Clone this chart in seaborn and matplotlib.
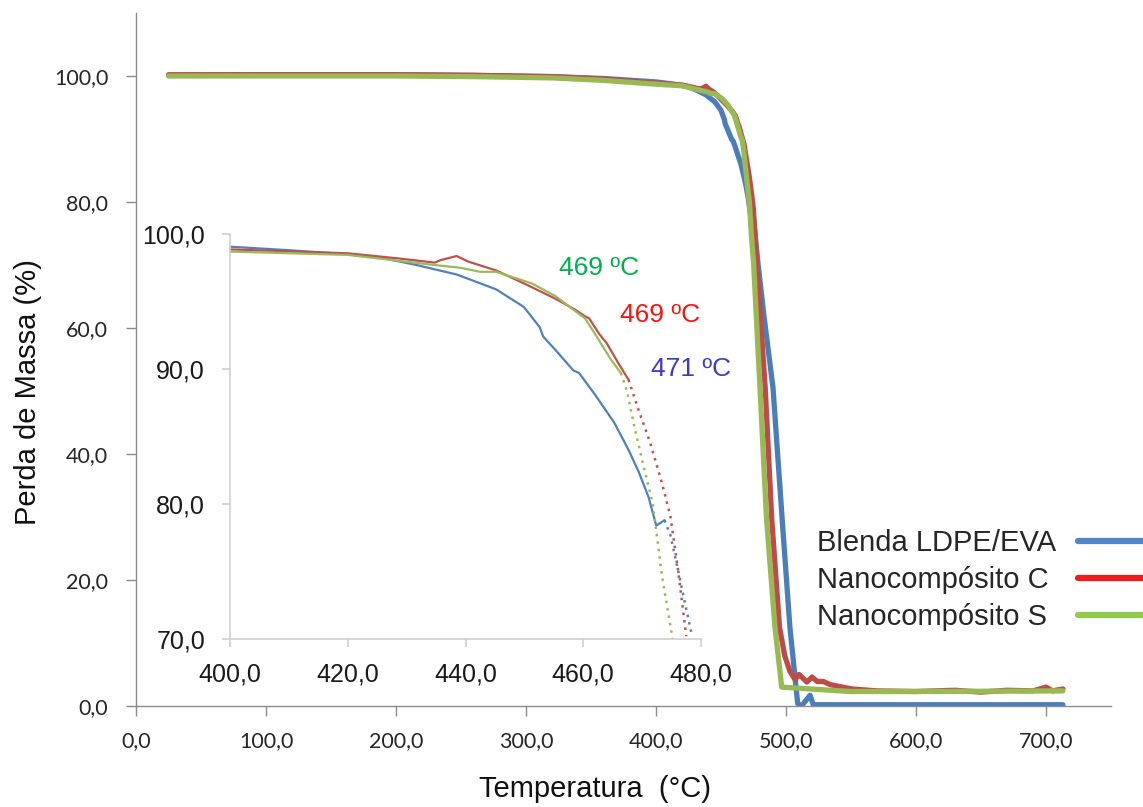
import matplotlib
matplotlib.use("Agg")
import matplotlib.pyplot as plt
from matplotlib.lines import Line2D
from matplotlib.ticker import FuncFormatter
import seaborn as sns
import pandas as pd

# ---- TGA curves: temperature (°C) and mass (%) ----
blend_T = [25, 100, 200, 260, 320, 360, 400, 410, 420, 425, 431.7, 438.5, 445.2,
           449.9, 452.6, 453.2, 455.3, 458.3, 459.3, 462.0, 465.3, 467.7, 469.4,
           471.1, 472.4, 473.8, 474.8, 476.1, 477.4, 478.5, 483, 490, 497, 503,
           509, 512, 515, 518.5, 521, 600, 713]
blend_v = [100.1, 100.2, 100.2, 100.1, 99.9, 99.6, 99.06, 98.8, 98.5, 98.3, 97.7,
           97.0, 95.9, 94.6, 93.1, 92.4, 91.4, 89.9, 89.7, 88.1, 86.0, 84.0, 82.4,
           80.5, 78.4, 78.8, 77.7, 75.1, 72.4, 70.2, 62.0, 50.5, 29.8, 12.5,
           0.4, 0.0, 0.8, 1.7, 0.2, 0.2, 0.2]

nanoC_T = [25, 100, 195, 260, 320, 360, 400, 420, 428.4, 434.8, 435.8, 438.5,
           440.5, 445.2, 450.6, 455.3, 458.6, 460.3, 461.0, 462.7, 464.0, 466.0,
           467.7, 469.4, 471.4, 473.4, 474.8, 476.1, 477.5, 484, 489, 495, 499,
           503, 507, 510, 512.6, 516, 520, 524, 528.6, 534, 541, 551, 570, 600,
           630, 650, 670, 690, 700, 705, 713]
nanoC_v = [100.2, 100.2, 100.2, 100.1, 99.9, 99.5, 98.86, 98.57, 98.2, 97.88,
           98.07, 98.37, 97.95, 97.3, 96.2, 95.2, 94.4, 93.9, 93.75, 92.6, 91.9,
           90.4, 89.2, 86.96, 84.5, 81.5, 79.1, 75.1, 70.2, 50.5, 29.8, 12.5, 8.0,
           5.5, 4.2, 5.0, 4.5, 3.8, 4.6, 3.9, 3.9, 3.4, 3.1, 2.7, 2.4, 2.3, 2.5,
           2.2, 2.5, 2.4, 3.0, 2.4, 2.7]

nanoS_T = [25, 100, 200, 260, 320, 360, 400, 420, 434.8, 439.1, 442.5, 445.2,
           451.2, 455.3, 458.0, 460.3, 462.0, 464.7, 466.4, 467.4, 468.7, 470.4,
           471.8, 473.4, 475.1, 480, 485, 491.5, 496.7, 549, 600, 660, 713]
nanoS_v = [100.0, 100.0, 100.0, 99.9, 99.7, 99.3, 98.7, 98.45, 97.7, 97.5, 97.2,
           97.2, 96.35, 95.4, 94.5, 93.75, 92.6, 90.7, 89.7, 88.4, 85.7, 82.5,
           80.05, 74.6, 70.2, 50.5, 29.8, 12.5, 3.0, 2.3, 2.3, 2.35, 2.4]

series_names = ["Blenda LDPE/EVA", "Nanocompósito C", "Nanocompósito S"]
line_colors = ["#4a7ebb", "#be4b48", "#98b954"]
legend_colors = ["#4f86cc", "#ee1c1c", "#92c94f"]
inset_colors = ["#4f81bd", "#c0504d", "#9bbb59"]
# temperature from which each zoomed curve is shown with markers only
dotted_from = [473.8, 467.7, 466.4]

onset_labels = ["471 ºC", "469 ºC", "469 ºC"]
onset_colors = ["#3a3ad0", "#ff1010", "#00b050"]
onset_pos = [(478.3, 90.0), (473.0, 94.0), (462.7, 97.5)]

main_xticks = [0, 100, 200, 300, 400, 500, 600, 700]
main_yticks = [0, 20, 40, 60, 80, 100]
inset_xticks = [400, 420, 440, 460, 480]
inset_yticks = [70, 80, 90, 100]

frames = []
for name, T, v in zip(series_names, [blend_T, nanoC_T, nanoS_T],
                      [blend_v, nanoC_v, nanoS_v]):
    frames.append(pd.DataFrame({"T": T, "massa": v, "serie": name}))
df = pd.concat(frames, ignore_index=True)

sns.set_style("ticks")
plt.rcParams["font.family"] = ["Liberation Sans", "DejaVu Sans"]

fig = plt.figure(figsize=(11.43, 8.07), dpi=100)
ax = fig.add_axes([136 / 1143, 1 - 706 / 807, (1111 - 136) / 1143, (706 - 13) / 807])

sns.lineplot(data=df, x="T", y="massa", hue="serie", hue_order=series_names,
             palette=dict(zip(series_names, line_colors)), linewidth=3.8,
             estimator=None, sort=False, legend=False, ax=ax)

ax.set_xlim(0, 750)
ax.set_ylim(0, 110)
ax.set_xticks(main_xticks)
ax.set_yticks(main_yticks)
comma = FuncFormatter(lambda val, pos: f"{val:.1f}".replace(".", ","))
ax.xaxis.set_major_formatter(comma)
ax.yaxis.set_major_formatter(comma)
for side in ["top", "right"]:
    ax.spines[side].set_visible(False)
for side in ["left", "bottom"]:
    ax.spines[side].set_color("#8c8c8c")
    ax.spines[side].set_linewidth(1.0)
ax.tick_params(axis="both", direction="out", length=7, width=1.0,
               color="#8c8c8c", labelsize=15.5, labelcolor="#262626")
ax.tick_params(axis="x", pad=11)
ax.tick_params(axis="y", pad=13)
for lab in ax.get_xticklabels() + ax.get_yticklabels():
    lab.set_family(["Lato", "DejaVu Sans"])
ax.set_xlabel("Temperatura  (°C)", fontsize=21, color="#111111", va="center")
ax.set_ylabel("Perda de Massa (%)", fontsize=21, color="#111111", va="center")
ax.xaxis.set_label_coords((595 - 136) / 975, (706 - 789) / 693)
ax.yaxis.set_label_coords((28 - 136) / 975, (706 - 392) / 693)

# ---- zoom on the onset of degradation ----
ins = fig.add_axes([230 / 1143, 1 - 639 / 807, (701 - 230) / 1143, (639 - 234) / 807])
ins.set_facecolor("none")
for name, col, cut in zip(series_names, inset_colors, dotted_from):
    sub = df[df["serie"] == name]
    solid = sub[sub["T"] <= cut]
    dots = sub[(sub["T"] >= cut) & (sub["T"] <= 480)]
    sns.lineplot(data=solid, x="T", y="massa", color=col, linewidth=1.6,
                 estimator=None, sort=False, legend=False, ax=ins)
    sns.lineplot(data=dots, x="T", y="massa", color=col, linewidth=1.8,
                 linestyle=(0, (1, 2)), estimator=None, sort=False, legend=False, ax=ins)
ins.set_xlim(400, 480)
ins.set_ylim(70, 100)
ins.set_xticks(inset_xticks)
ins.set_yticks(inset_yticks)
ins.xaxis.set_major_formatter(comma)
ins.yaxis.set_major_formatter(comma)
ins.set_xlabel("")
ins.set_ylabel("")
for side in ["top", "right"]:
    ins.spines[side].set_visible(False)
for side in ["left", "bottom"]:
    ins.spines[side].set_color("#d0d0d0")
    ins.spines[side].set_linewidth(1.2)
ins.tick_params(axis="both", direction="out", length=6, width=1.2,
                color="#d0d0d0", labelsize=18, labelcolor="#1a1a1a")
ins.tick_params(axis="x", pad=11)
ins.tick_params(axis="y", pad=12)

for (tx, ty), txt, col in zip(onset_pos, onset_labels, onset_colors):
    ins.text(tx, ty, txt, color=col, fontsize=19, ha="center", va="center",
             clip_on=False)

# legend: left-aligned names, with the line keys lined up in one column
anchor = (817 / 1143, 1 - 580 / 807)
leg_opts = dict(loc="center left", bbox_to_anchor=anchor, frameon=False,
                fontsize=21, labelspacing=0.3, borderaxespad=0, borderpad=0)
keys = [Line2D([], [], color=c, linewidth=4.5) for c in legend_colors]
blank = [Line2D([], [], linewidth=0) for _ in legend_colors]
key_leg = fig.legend(keys, series_names, markerfirst=False, handlelength=3.6,
                     handletextpad=0.75, **leg_opts)
for t in key_leg.get_texts():
    t.set_alpha(0)
fig.legend(blank, series_names, markerfirst=True, handlelength=0,
           handletextpad=0, **leg_opts)

fig.savefig("out.png", dpi=100)
